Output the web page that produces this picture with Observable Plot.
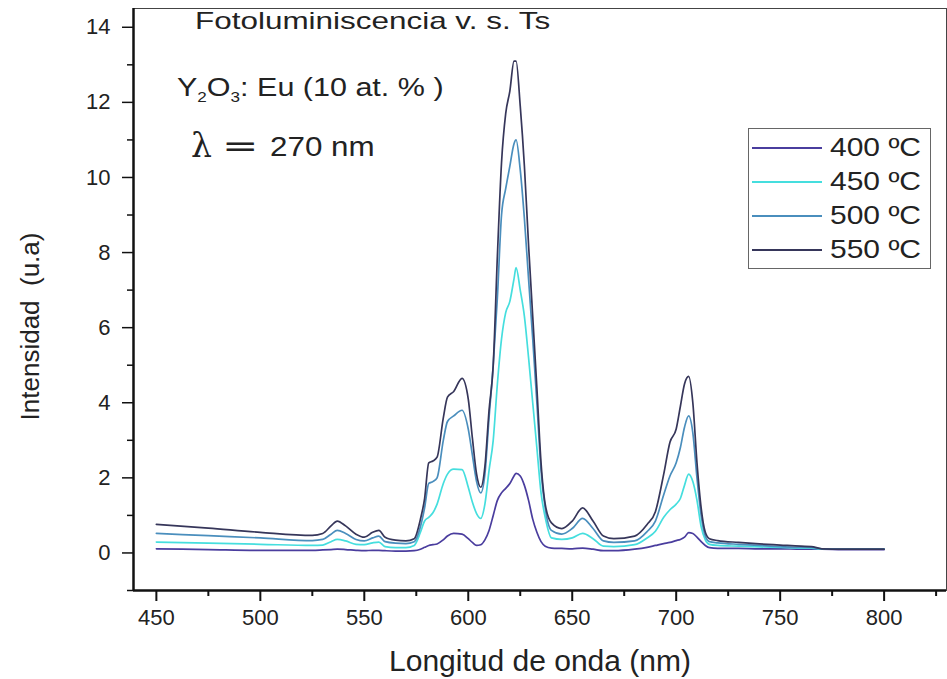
<!DOCTYPE html>
<html><head><meta charset="utf-8">
<script src="https://cdn.jsdelivr.net/npm/d3@7"></script>
<script src="https://cdn.jsdelivr.net/npm/@observablehq/plot@0.6"></script>
<style>
body{margin:0;background:#fff;font-family:"Liberation Sans",Arial,sans-serif;color:#222;}
#wrap{position:relative;width:947px;height:679px;overflow:hidden;}
.ann{position:absolute;white-space:nowrap;line-height:1;transform-origin:left center;}
#legend{position:absolute;left:748px;top:128px;width:183px;height:141px;border:1.5px solid #666;box-sizing:border-box;background:#fff;}
.lrow{position:absolute;left:0;width:100%;height:30px;}
.lrow svg{position:absolute;left:3px;top:0;}
.lrow span{position:absolute;left:81px;top:3px;font-size:25px;line-height:1;transform:scaleX(1.2);transform-origin:left center;white-space:nowrap;}
</style></head><body><div id="wrap"></div>
<script>
const wavelength = [450,475,500,525,530,534,537,541,546,550,554,557,560,565,570,574,577,579,581,583,585,588,590,593,597,600,602,604,606,608,610,612,614,616,618,620,622,623,625,627,629,631,633,635,637,640,645,650,655,660,665,670,680,686,690,694,697,700,702,704,706,708,710,712,714,716,720,730,740,750,760,765,770,780,790,800];
const t400 = [0.11,0.09,0.07,0.07,0.08,0.09,0.10,0.09,0.07,0.06,0.07,0.07,0.06,0.05,0.05,0.06,0.10,0.15,0.20,0.22,0.24,0.35,0.45,0.52,0.50,0.38,0.28,0.20,0.22,0.35,0.60,1.00,1.40,1.60,1.72,1.85,2.05,2.12,2.05,1.80,1.40,0.90,0.55,0.30,0.18,0.13,0.12,0.11,0.13,0.10,0.06,0.06,0.10,0.15,0.20,0.25,0.28,0.33,0.36,0.42,0.54,0.52,0.42,0.30,0.20,0.14,0.12,0.12,0.11,0.11,0.10,0.10,0.10,0.09,0.09,0.09];
const t450 = [0.29,0.26,0.23,0.20,0.21,0.30,0.36,0.32,0.23,0.22,0.27,0.29,0.17,0.14,0.14,0.20,0.55,0.85,0.95,1.07,1.30,1.85,2.10,2.23,2.22,1.75,1.35,1.05,0.92,1.30,2.20,3.00,4.50,5.70,6.40,6.70,7.30,7.60,7.00,6.30,5.20,4.00,2.80,1.60,0.95,0.40,0.36,0.40,0.52,0.38,0.18,0.17,0.22,0.40,0.58,0.95,1.15,1.30,1.45,1.80,2.10,1.90,1.40,0.70,0.35,0.23,0.20,0.18,0.16,0.15,0.13,0.13,0.10,0.10,0.10,0.10];
const t500 = [0.52,0.46,0.40,0.33,0.36,0.50,0.60,0.52,0.36,0.32,0.40,0.45,0.30,0.26,0.25,0.30,0.70,1.20,1.85,1.90,2.00,3.00,3.50,3.65,3.80,3.30,2.60,1.90,1.60,2.10,3.60,5.00,6.80,9.00,9.70,10.30,10.90,11.00,10.20,8.90,7.30,5.70,4.00,2.20,1.20,0.60,0.50,0.65,0.92,0.65,0.32,0.28,0.32,0.57,0.85,1.55,2.05,2.40,2.80,3.35,3.65,3.20,2.00,1.00,0.45,0.30,0.27,0.23,0.20,0.17,0.15,0.15,0.11,0.10,0.10,0.10];
const t550 = [0.76,0.66,0.55,0.47,0.52,0.72,0.85,0.72,0.50,0.42,0.55,0.60,0.42,0.34,0.32,0.38,0.90,1.45,2.40,2.45,2.55,3.60,4.15,4.30,4.65,4.10,3.05,2.10,1.75,2.30,3.80,5.00,7.90,10.40,11.70,12.30,13.10,13.10,11.90,10.30,8.20,6.30,4.40,2.40,1.30,0.80,0.65,0.85,1.20,0.85,0.45,0.38,0.45,0.76,1.10,2.10,2.95,3.30,3.90,4.50,4.70,4.00,2.40,1.20,0.55,0.38,0.33,0.28,0.24,0.21,0.18,0.17,0.11,0.10,0.10,0.10];
const seriesNames = ["400 ºC","450 ºC","500 ºC","550 ºC"];
const seriesColors = ["#4a3d9e","#45dede","#4a8ebd","#36365a"];
const xTicks = [450,500,550,600,650,700,750,800];
const xMinorTicks = [475,525,575,625,675,725,775,825];
const yTicks = [0,2,4,6,8,10,12,14];
const yMinorTicks = [-1,1,3,5,7,9,11,13];
const xDomain = [439, 830];
const yDomain = [-1, 14.5];
const xLabel = "Longitud de onda (nm)";
const yLabel = "Intensidad  (u.a)";

const seriesValues = [t400, t450, t500, t550];
const data = [];
seriesValues.forEach((vals, i) => vals.forEach((v, j) => data.push({wl: wavelength[j], val: v, series: seriesNames[i]})));

const chart = Plot.plot({
  width: 947, height: 679,
  marginLeft: 133, marginRight: 1, marginTop: 8, marginBottom: 89,
  style: {fontFamily: "Liberation Sans, Arial, sans-serif", color: "#222", background: "#fff", overflow: "visible"},
  x: {domain: xDomain},
  y: {domain: yDomain},
  color: {domain: seriesNames, range: seriesColors},
  marks: [
    Plot.frame({stroke: "#444", strokeWidth: 1}),
    Plot.axisX({ticks: xTicks, tickSize: 11, tickPadding: 8, strokeWidth: 2, fontSize: 22, label: null, stroke: "#111"}),
    Plot.axisX({ticks: xMinorTicks, tickSize: 6, strokeWidth: 2, text: null, label: null, stroke: "#111"}),
    Plot.axisY({ticks: yTicks, tickSize: 11, tickPadding: 12, strokeWidth: 1.5, fontSize: 22, label: null, stroke: "#111"}),
    Plot.axisY({ticks: yMinorTicks, tickSize: 6, strokeWidth: 1.5, text: null, label: null, stroke: "#111"}),
    Plot.ruleX([xDomain[0]], {stroke: "#111", strokeWidth: 2.5}),
    Plot.ruleY([yDomain[0]], {stroke: "#111", strokeWidth: 2.5}),
    Plot.lineY(data, {x: "wl", y: "val", z: "series", stroke: "series", strokeWidth: 1.7, curve: "monotone-x"}),
    Plot.text([xLabel], {frameAnchor: "bottom", dy: 80, fontSize: 30, fill: "#222"}),
    Plot.text([yLabel], {frameAnchor: "left", textAnchor: "middle", dx: -103, dy: 27, rotate: -90, fontSize: 26, fill: "#222"})
  ]
});

const wrap = document.getElementById("wrap");
wrap.appendChild(chart);

function addAnn(html, left, top, size, sx, family) {
  const d = document.createElement("div");
  d.className = "ann";
  d.innerHTML = html;
  d.style.left = left + "px";
  d.style.top = top + "px";
  d.style.fontSize = size + "px";
  d.style.transform = `scaleX(${sx})`;
  if (family) d.style.fontFamily = family;
  wrap.appendChild(d);
}
addAnn("Fotoluminiscencia v. s. Ts", 195, 9, 24, 1.31);
addAnn('Y<sub style="font-size:14px;vertical-align:-6px">2</sub>O<sub style="font-size:14px;vertical-align:-6px">3</sub>: Eu (10 at. % )', 177, 75, 25, 1.22);
addAnn("λ", 191, 129, 33, 1.0, "DejaVu Serif");
addAnn("=", 222, 131, 30, 1.45, "DejaVu Sans");
addAnn("270 nm", 270, 133, 28, 1.12);

const legend = document.createElement("div");
legend.id = "legend";
seriesNames.forEach((name, i) => {
  const row = document.createElement("div");
  row.className = "lrow";
  row.style.top = (3 + i * 34) + "px";
  row.innerHTML = `<svg width="72" height="30"><line x1="0" x2="70" y1="16" y2="16" stroke="${seriesColors[i]}" stroke-width="2"/></svg><span>${name}</span>`;
  legend.appendChild(row);
});
wrap.appendChild(legend);
</script>
</body></html>
